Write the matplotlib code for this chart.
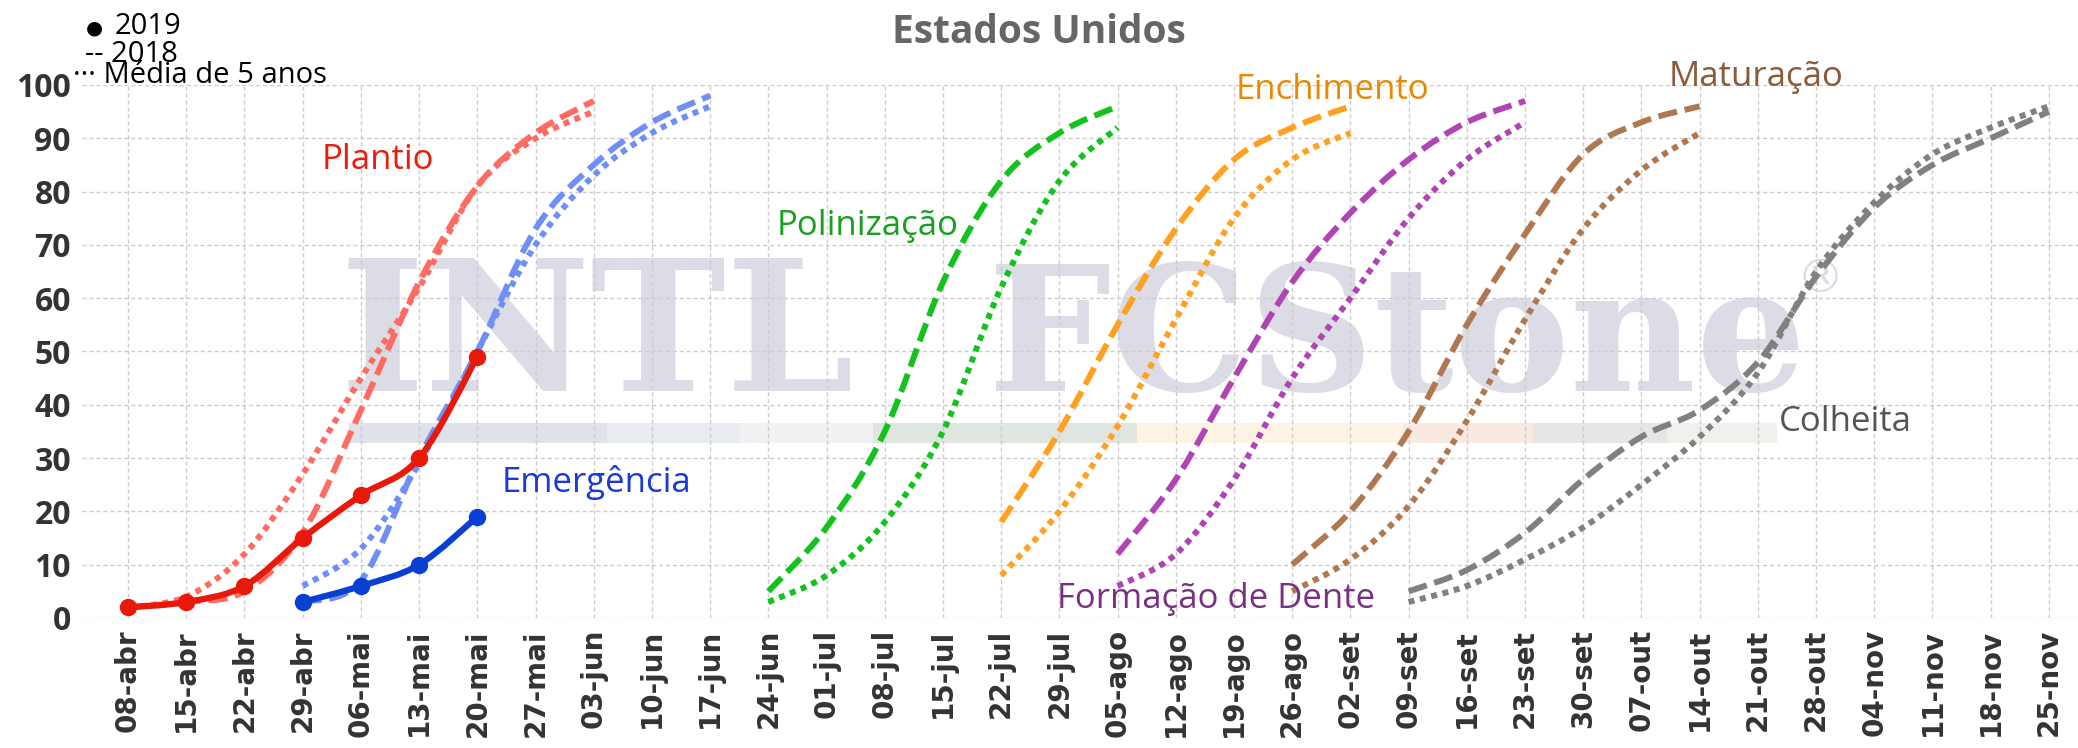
import matplotlib
matplotlib.use("Agg")
import matplotlib.pyplot as plt
from matplotlib.patches import Rectangle, PathPatch
from matplotlib.path import Path

# semanas (eixo x)
weeks = ['08-abr', '15-abr', '22-abr', '29-abr', '06-mai', '13-mai', '20-mai',
         '27-mai', '03-jun', '10-jun', '17-jun', '24-jun', '01-jul', '08-jul',
         '15-jul', '22-jul', '29-jul', '05-ago', '12-ago', '19-ago', '26-ago',
         '02-set', '09-set', '16-set', '23-set', '30-set', '07-out', '14-out',
         '21-out', '28-out', '04-nov', '11-nov', '18-nov', '25-nov']

# Plantio (inicia em 08-abr)
plantio_start = 0
plantio_2019 = [2, 3, 6, 15, 23, 30, 49]
plantio_2018 = [2, 3, 5, 16, 39, 63, 81, 91, 97]
plantio_media = [2, 4, 12, 27, 45, 62, 81, 90, 95]

# Emergencia (inicia em 29-abr)
emerg_start = 3
emerg_2019 = [3, 6, 10, 19]
emerg_2018 = [3, 7, 30, 50, 73, 85, 93, 98]
emerg_media = [6, 13, 29, 50, 70, 83, 91, 96]

# Polinizacao (inicia em 24-jun)
polin_start = 11
polin_2018 = [5, 17, 35, 63, 82, 91, 96]
polin_media = [3, 8, 18, 35, 62, 82, 92]

# Enchimento (inicia em 22-jul)
ench_start = 15
ench_2018 = [18, 35, 55, 73, 86, 92, 96]
ench_media = [8, 20, 36, 56, 75, 86, 91]

# Formacao de dente (inicia em 05-ago)
dente_start = 17
dente_2018 = [12, 26, 45, 63, 76, 86, 93, 97]
dente_media = [6, 12, 26, 45, 60, 75, 86, 93]

# Maturacao (inicia em 26-ago)
mat_start = 20
mat_2018 = [10, 20, 35, 55, 72, 87, 93, 96]
mat_media = [5, 11, 21, 37, 56, 73, 84, 91]

# Colheita (inicia em 09-set)
colh_start = 22
colh_2018 = [5, 9, 16, 26, 34, 39, 48, 64, 77, 85, 90, 95]
colh_media = [3, 6, 11, 17, 25, 34, 46, 65, 78, 87, 92, 96]

fig = plt.figure(figsize=(20.78, 7.48), dpi=100)
ax = fig.add_axes([0.0395, 0.1738, 0.9605, 0.7126])
ax.patch.set_alpha(0)

# marca d'agua (atras do grafico)
wm = dict(family='DejaVu Serif', weight='bold', color='#dcdce6',
          va='baseline', zorder=-2)
fig.text(0.1635, 0.477, 'INTL', ha='left', fontsize=131, **wm)
fig.text(0.4756, 0.477, 'FCStone', ha='left', fontsize=125, **wm)
fig.text(0.876, 0.626, '®', fontsize=34, family='DejaVu Sans',
         color='#dcdce6', ha='center', va='center', zorder=-2)
strip = [('#e0e2ea', 0.168, 0.292), ('#e9ecf0', 0.292, 0.356),
         ('#f0f1f3', 0.356, 0.42), ('#dfe6df', 0.42, 0.547),
         ('#fdf3e3', 0.547, 0.675), ('#f8e9e1', 0.675, 0.738),
         ('#e6e6e4', 0.738, 0.802), ('#f1f0ec', 0.802, 0.855)]
for c, x0, x1 in strip:
    fig.patches.append(Rectangle((x0, 0.408), x1 - x0, 0.027, color=c, lw=0,
                                 transform=fig.transFigure, zorder=-2))


def smooth(xs, ys):
    # curva suave (bezier) passando pelos pontos semanais
    pts = list(zip(xs, ys))
    n = len(pts)
    verts = [pts[0]]
    codes = [Path.MOVETO]
    for i in range(n - 1):
        p0 = pts[i - 1] if i > 0 else pts[i]
        p1, p2 = pts[i], pts[i + 1]
        p3 = pts[i + 2] if i + 2 < n else pts[i + 1]
        c1 = (p1[0] + (p2[0] - p0[0]) / 6, p1[1] + (p2[1] - p0[1]) / 6)
        c2 = (p2[0] - (p3[0] - p1[0]) / 6, p2[1] - (p3[1] - p1[1]) / 6)
        verts += [c1, c2, p2]
        codes += [Path.CURVE4] * 3
    return Path(verts, codes)


def draw_curve(start, vals, col, ls, lw=4.3, z=3):
    xs = list(range(start, start + len(vals)))
    ax.add_patch(PathPatch(smooth(xs, vals), fill=False, edgecolor=col,
                           lw=lw, ls=ls, capstyle='butt', joinstyle='round',
                           clip_on=False, zorder=z))
    return xs


def plot_stage(start, s2018, smedia, col, s2019=None, col19=None):
    draw_curve(start, s2018, col, (0, (3.2, 1.3)))
    draw_curve(start, smedia, col, (0, (1.0, 0.95)))
    if s2019 is not None:
        x19 = draw_curve(start, s2019, col19, '-', lw=4.5, z=4)
        ax.plot(x19, s2019, ls='none', marker='o', ms=11.5, color=col19,
                clip_on=False, zorder=5)


plot_stage(plantio_start, plantio_2018, plantio_media, '#ff6b60',
           plantio_2019, '#e8190a')
plot_stage(emerg_start, emerg_2018, emerg_media, '#6f8ff5',
           emerg_2019, '#0a3fd4')
plot_stage(polin_start, polin_2018, polin_media, '#14c21e')
plot_stage(ench_start, ench_2018, ench_media, '#ffa020')
plot_stage(dente_start, dente_2018, dente_media, '#b044b4')
plot_stage(mat_start, mat_2018, mat_media, '#b07850')
plot_stage(colh_start, colh_2018, colh_media, '#808080')

# rotulos das fases
lab_font = dict(family='Open Sans', fontsize=25, ha='center', va='center')
ax.text(4.3, 86, 'Plantio', color='#e61e0e', **lab_font)
ax.text(8.05, 25.4, 'Emergência', color='#1a3ad8', **lab_font)
ax.text(12.7, 73.6, 'Polinização', color='#1aa020', **lab_font)
ax.text(20.7, 99, 'Enchimento', color='#e88a00', **lab_font)
ax.text(18.7, 3.5, 'Formação de Dente', color='#7a3080', **lab_font)
ax.text(27.97, 101.5, 'Maturação', color='#8a5a3a', **lab_font)
ax.text(29.5, 36.8, 'Colheita', color='#555555', **lab_font)

ax.set_xlim(-0.79, 33.5)
ax.set_ylim(0, 100)
ax.set_xticks(range(len(weeks)))
ax.set_xticklabels(weeks, rotation=90, family='DejaVu Sans', weight='bold',
                   fontsize=20, color='#333333')
ax.set_yticks(range(0, 101, 10))
ax.set_yticklabels([str(v) for v in range(0, 101, 10)], family='Open Sans',
                   weight='bold', fontsize=23, color='#333333')
ax.tick_params(length=0, pad=8)
ax.grid(True, color='#cccccc', ls=(0, (3, 2)), lw=1)
ax.set_axisbelow(True)
for s in ax.spines.values():
    s.set_visible(False)

fig.text(0.5, 0.956, 'Estados Unidos', family='Open Sans', weight='bold',
         fontsize=28, color='#666666', ha='center', va='center')

# legenda em texto
leg = dict(family=['Open Sans', 'DejaVu Sans'], fontsize=21, color='black',
           va='center')
fig.text(0.0415, 0.962, '●', family=['Open Sans', 'DejaVu Sans'],
         fontsize=14, color='black', va='center')
fig.text(0.0553, 0.964, '2019', **leg)
fig.text(0.041, 0.927, '-- 2018', **leg)
fig.text(0.035, 0.899, '··· Média de 5 anos', **leg)

fig.savefig('out.png', dpi=100)
